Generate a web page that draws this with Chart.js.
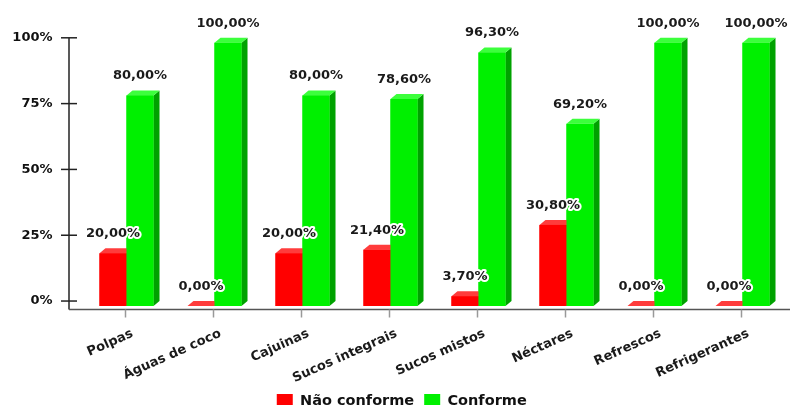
<!DOCTYPE html>
<html>
<head>
<meta charset="utf-8">
<script src="https://cdn.jsdelivr.net/npm/chart.js@4"></script>
<style>
  html, body { margin: 0; padding: 0; background: #fff; overflow: hidden; }
  #wrap { width: 792px; height: 419px; position: relative; }
</style>
</head>
<body>
<div id="wrap"><canvas id="conformChart"></canvas></div>
<script>
const categories = ['Polpas', 'Águas de coco', 'Cajuinas', 'Sucos integrais', 'Sucos mistos', 'Néctares', 'Refrescos', 'Refrigerantes'];
const naoConforme = [20.0, 0.0, 20.0, 21.4, 3.7, 30.8, 0.0, 0.0];
const conforme = [80.0, 100.0, 80.0, 78.6, 96.3, 69.2, 100.0, 100.0];
const yTicks = [0, 25, 50, 75, 100];
const seriesNames = ['Não conforme', 'Conforme'];

const FONT = '"DejaVu Sans", Verdana, sans-serif';
const frontColors = ['#ff0000', '#00f000'];
const sideColors = ['#c40000', '#00a200'];
const topColors = ['#ff3c3c', '#3cff3c'];
const DX = 6, DY = 5;      // depth of the 3d look
const PLOT_H = 270;        // chart area height set by the layout below

// bars are drawn on the front plane, the axis ticks sit on the back plane
const barMax = 100 * PLOT_H / (PLOT_H - DY);
const axisMin = -100 * DY / (PLOT_H - DY);

const fmt = v => v.toFixed(2).replace('.', ',') + '%';

const axesLines = {
  id: 'axesLines',
  afterLayout(chart) {
    // nudge the legend a little to the right, like the original
    chart.legend.left += 3;
    chart.legend.right += 3;
  },
  beforeDatasetsDraw(chart) {
    const { ctx, chartArea, scales } = chart;
    const ax = chartArea.left - 13.5;
    const ay = chartArea.bottom + 3.5;
    ctx.save();
    ctx.lineWidth = 1.5;
    ctx.strokeStyle = '#222';
    ctx.beginPath();
    ctx.moveTo(ax, scales.y2.getPixelForValue(100));
    ctx.lineTo(ax, ay);
    ctx.stroke();
    yTicks.forEach(v => {
      const py = scales.y2.getPixelForValue(v);
      ctx.beginPath();
      ctx.moveTo(ax - 8, py);
      ctx.lineTo(ax + 8, py);
      ctx.stroke();
    });
    ctx.strokeStyle = '#555';
    ctx.beginPath();
    ctx.moveTo(ax, ay);
    ctx.lineTo(chart.width - 2, ay);
    ctx.stroke();
    ctx.strokeStyle = '#999';
    categories.forEach((c, i) => {
      const px = scales.x.getPixelForValue(i) - 1;
      ctx.beginPath();
      ctx.moveTo(px, ay);
      ctx.lineTo(px, ay + 8);
      ctx.stroke();
    });
    ctx.restore();
  }
};

const bars3d = {
  id: 'bars3d',
  afterDatasetsDraw(chart) {
    const ctx = chart.ctx;
    const metas = [chart.getDatasetMeta(0), chart.getDatasetMeta(1)];
    ctx.save();
    for (let i = 0; i < categories.length; i++) {
      metas.forEach((meta, d) => {
        const { x, y, base, width } = meta.data[i].getProps(['x', 'y', 'base', 'width'], true);
        const l = x - width / 2, r = x + width / 2;
        ctx.fillStyle = sideColors[d];
        ctx.beginPath();
        ctx.moveTo(r, y);
        ctx.lineTo(r + DX, y - DY);
        ctx.lineTo(r + DX, base - DY);
        ctx.lineTo(r, base);
        ctx.closePath();
        ctx.fill();
        ctx.fillStyle = topColors[d];
        ctx.beginPath();
        ctx.moveTo(l, y);
        ctx.lineTo(l + DX, y - DY);
        ctx.lineTo(r + DX, y - DY);
        ctx.lineTo(r, y);
        ctx.closePath();
        ctx.fill();
        ctx.fillStyle = frontColors[d];
        ctx.fillRect(l, y, width, base - y);
      });
    }
    // value labels with a white halo
    ctx.font = 'bold 13px ' + FONT;
    ctx.textAlign = 'center';
    ctx.textBaseline = 'middle';
    ctx.lineJoin = 'round';
    metas.forEach((meta, d) => {
      const vals = chart.data.datasets[d].data;
      meta.data.forEach((bar, i) => {
        const tx = bar.x, ty = bar.y - 19.5;
        ctx.strokeStyle = '#fff';
        ctx.lineWidth = 4;
        ctx.strokeText(fmt(vals[i]), tx, ty);
        ctx.fillStyle = '#1a1a1a';
        ctx.fillText(fmt(vals[i]), tx, ty);
      });
    });
    ctx.restore();
  }
};

new Chart(document.getElementById('conformChart'), {
  type: 'bar',
  data: {
    labels: categories,
    datasets: [
      { label: seriesNames[0], data: naoConforme, backgroundColor: frontColors[0], borderWidth: 0, yAxisID: 'y' },
      { label: seriesNames[1], data: conforme, backgroundColor: frontColors[1], borderWidth: 0, yAxisID: 'y' }
    ]
  },
  options: {
    responsive: true,
    maintainAspectRatio: false,
    animation: false,
    categoryPercentage: 0.614,
    barPercentage: 1.0,
    layout: { padding: { left: 11, right: 5.5, top: 36, bottom: 0 } },
    scales: {
      x: {
        offset: true,
        grid: { display: false, drawTicks: false },
        border: { display: false },
        ticks: {
          autoSkip: false,
          minRotation: 24,
          maxRotation: 24,
          labelOffset: 6,
          padding: 20,
          color: '#1a1a1a',
          font: { family: FONT, size: 13, weight: 'bold' }
        },
        afterFit(scale) { scale.height = 78; }
      },
      y: { display: false, min: 0, max: barMax },
      y2: {
        position: 'left',
        min: axisMin,
        max: 100,
        grid: { display: false, drawTicks: false },
        border: { display: false },
        afterBuildTicks(scale) { scale.ticks = yTicks.map(v => ({ value: v })); },
        ticks: {
          padding: 30,
          color: '#111',
          font: { family: FONT, size: 13, weight: 'bold' },
          callback: v => v + '%'
        },
        afterFit(scale) { scale.width = 71.5; }
      }
    },
    plugins: {
      legend: {
        position: 'bottom',
        labels: {
          boxWidth: 16,
          boxHeight: 15,
          padding: 10,
          color: '#111',
          font: { family: FONT, size: 14.5, weight: 'bold' }
        }
      },
      tooltip: { enabled: false }
    }
  },
  plugins: [axesLines, bars3d]
});
</script>
</body>
</html>
